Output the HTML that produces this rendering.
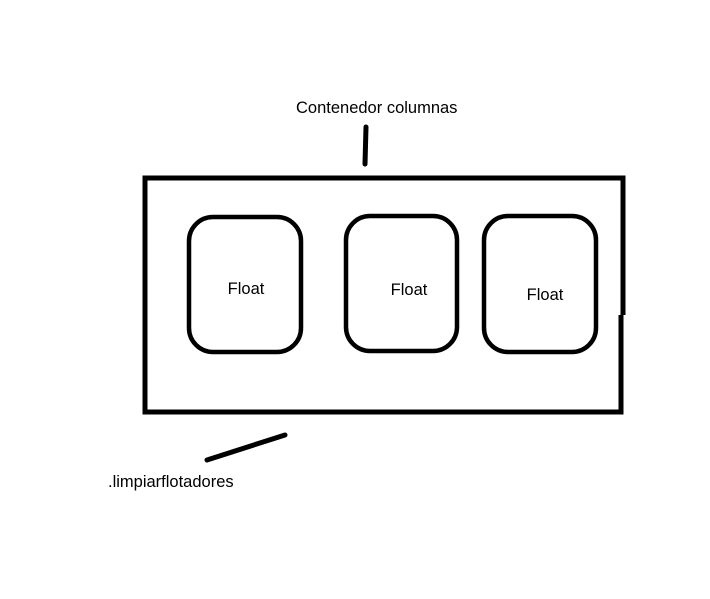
<!DOCTYPE html>
<html>
<head>
<meta charset="utf-8">
<style>
  html, body { margin: 0; padding: 0; background: #fff; }
  svg { display: block; }
  text { font-family: "Liberation Sans", sans-serif; font-size: 16.5px; fill: #000; }
</style>
</head>
<body>
<svg width="710" height="599" viewBox="0 0 710 599">
  <rect x="0" y="0" width="710" height="599" fill="#fff"/>
  <text x="296" y="113">Contenedor columnas</text>
  <line x1="366" y1="127" x2="365" y2="164" stroke="#000" stroke-width="5" stroke-linecap="round"/>
  <path d="M142.5 178 H623 V315 M621 315 V412 H145 V175.5" fill="none" stroke="#000" stroke-width="5"/>
  <rect x="189" y="217" width="112" height="135" rx="24" fill="none" stroke="#000" stroke-width="4.5"/>
  <rect x="346" y="216" width="111" height="135" rx="24" fill="none" stroke="#000" stroke-width="4.5"/>
  <rect x="484" y="216" width="112" height="136" rx="24" fill="none" stroke="#000" stroke-width="4.5"/>
  <text x="246" y="294" text-anchor="middle">Float</text>
  <text x="409" y="295" text-anchor="middle">Float</text>
  <text x="545" y="300" text-anchor="middle">Float</text>
  <line x1="207" y1="460" x2="285" y2="435" stroke="#000" stroke-width="5" stroke-linecap="round"/>
  <text x="108" y="487">.limpiarflotadores</text>
</svg>
</body>
</html>
